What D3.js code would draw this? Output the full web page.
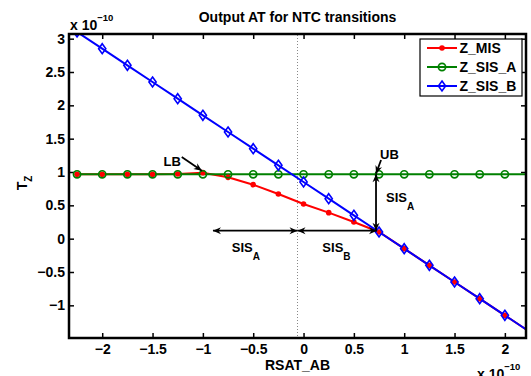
<!DOCTYPE html>
<html><head><meta charset="utf-8">
<script src="https://cdn.jsdelivr.net/npm/d3@7/dist/d3.min.js"></script>
<style>
body{margin:0;background:#fff;}
text{font-family:"Liberation Sans",Arial,Helvetica,sans-serif;font-weight:bold;fill:#000;}
</style></head>
<body>
<svg id="chart" width="531" height="376"></svg>
<script>
// ---- data ----
const xValues = [-2.25,-2,-1.75,-1.5,-1.25,-1,-0.75,-0.5,-0.25,0,0.25,0.5,0.75,1,1.25,1.5,1.75,2,2.25];
const zMIS   = [0.965,0.965,0.965,0.965,0.97,0.99,0.92,0.81,0.67,0.52,0.39,0.25,0.10,-0.15,-0.40,-0.65,-0.90,-1.15,-1.40];
const zSIS_A = [0.965,0.965,0.965,0.965,0.965,0.965,0.965,0.965,0.965,0.965,0.965,0.965,0.965,0.965,0.965,0.965,0.965,0.965,0.965];
const zSIS_B = [3.10,2.85,2.60,2.35,2.10,1.85,1.60,1.35,1.10,0.85,0.60,0.35,0.10,-0.15,-0.40,-0.65,-0.90,-1.15,-1.40];
const seriesNames = ["Z_MIS","Z_SIS_A","Z_SIS_B"];
const xTicks = [-2,-1.5,-1,-0.5,0,0.5,1,1.5,2];
const yTicks = [-1,-0.5,0,0.5,1,1.5,2,2.5,3];
const titleText = "Output AT for NTC transitions";
const xLabel = "RSAT_AB";

// ---- layout ----
const svg = d3.select("#chart");
const L = 69, R = 526, T = 34, B = 338;
const x = d3.scaleLinear().domain([-2.33, 2.21]).range([L, R]);
const y = d3.scaleLinear().domain([-1.49, 3.07]).range([B, T]);
const fmt = d => d < 0 ? "\u2212" + Math.abs(d) : String(d);

svg.append("defs").append("clipPath").attr("id","clip")
  .append("rect").attr("x",L).attr("y",T).attr("width",R-L).attr("height",B-T);

// axes
const gx = svg.append("g").attr("transform",`translate(0,${B})`)
  .call(d3.axisBottom(x).tickValues(xTicks).tickFormat(fmt).tickSizeInner(-5).tickSizeOuter(0).tickPadding(6));
const gy = svg.append("g").attr("transform",`translate(${L},0)`)
  .call(d3.axisLeft(y).tickValues(yTicks).tickFormat(fmt).tickSizeInner(-5).tickSizeOuter(0).tickPadding(4));
const gt = svg.append("g").attr("transform",`translate(0,${T})`)
  .call(d3.axisTop(x).tickValues(xTicks).tickFormat("").tickSizeInner(-5).tickSizeOuter(0));
const gr = svg.append("g").attr("transform",`translate(${R},0)`)
  .call(d3.axisRight(y).tickValues(yTicks).tickFormat("").tickSizeInner(-5).tickSizeOuter(0));
[gx,gy,gt,gr].forEach(g=>{
  g.select(".domain").remove();
  g.selectAll(".tick line").attr("stroke","#000").attr("stroke-width",1.5);
  g.selectAll(".tick text").style("font-size","14px").style("font-family",null).attr("fill","#000");
});

// dotted vertical line
svg.append("line").attr("x1",x(-0.06)).attr("x2",x(-0.06)).attr("y1",T+1).attr("y2",B-2)
  .attr("stroke","#888").attr("stroke-width",1).attr("stroke-dasharray","1,2");

// series
const plot = svg.append("g").attr("clip-path","url(#clip)");
const line = d3.line().x((d,i)=>x(xValues[i])).y(d=>y(d));
const colors = ["#ff0000","#008000","#0000ff"];
const allSeries = [zMIS, zSIS_A, zSIS_B];
allSeries.forEach((s,k)=>{
  plot.append("path").datum(s).attr("d",line).attr("fill","none")
    .attr("stroke",colors[k]).attr("stroke-width",2);
});
function marker(g, k, cx, cy){
  if(k===0){
    g.append("circle").attr("cx",cx).attr("cy",cy).attr("r",2.8).attr("fill",colors[k]);
  } else if(k===1){
    g.append("circle").attr("cx",cx).attr("cy",cy).attr("r",3.6).attr("fill","none")
      .attr("stroke",colors[k]).attr("stroke-width",1.7);
  } else {
    g.append("path").attr("d",`M${cx},${cy-5}L${cx+3.6},${cy}L${cx},${cy+5}L${cx-3.6},${cy}Z`)
      .attr("fill","none").attr("stroke",colors[k]).attr("stroke-width",1.6);
  }
}
allSeries.forEach((s,k)=>{
  s.forEach((v,i)=>marker(plot,k,x(xValues[i]),y(v)));
});

// frame
svg.append("rect").attr("x",L).attr("y",T).attr("width",R-L).attr("height",B-T)
  .attr("fill","none").attr("stroke","#000").attr("stroke-width",2.5);

// arrows
function head(px,py,fromx,fromy){
  const a = Math.atan2(py-fromy, px-fromx);
  const len=8, w=3.5, notch=5.5;
  const c=Math.cos(a), s=Math.sin(a);
  const p=(dx,dy)=>[px+dx*c-dy*s, py+dx*s+dy*c];
  const pts=[p(0,0),p(-len,w),p(-notch,0),p(-len,-w)];
  svg.append("path").attr("d","M"+pts.map(q=>q.join(",")).join("L")+"Z").attr("fill","#000");
}
function arrow(x1,y1,x2,y2,both){
  const X1=x(x1),Y1=y(y1),X2=x(x2),Y2=y(y2);
  svg.append("line").attr("x1",X1).attr("y1",Y1).attr("x2",X2).attr("y2",Y2)
    .attr("stroke","#000").attr("stroke-width",1.8);
  head(X2,Y2,X1,Y1);
  if(both) head(X1,Y1,X2,Y2);
}
arrow(-0.06,0.12,-0.9,0.12,true);
arrow(-0.06,0.12,0.73,0.12,true);
arrow(0.72,0.965,0.72,0.12,true);
arrow(0.77,1.18,0.72,0.975,false);
arrow(-1.21,1.225,-1.01,1.02,false);

function label(xd,yd,main,sub,size){
  const t = svg.append("text").attr("x",x(xd)).attr("y",y(yd)).style("font-size",size+"px").text(main);
  if(sub) t.append("tspan").attr("dy",8).style("font-size","10px").text(sub);
}
label(-1.39,1.09,"LB",null,13);
label(0.76,1.195,"UB",null,13);
label(-0.713,-0.2,"SIS","A",13);
label(0.187,-0.2,"SIS","B",13);
label(0.82,0.555,"SIS","A",13);

// title & labels
svg.append("text").attr("x",(L+R)/2).attr("y",22).attr("text-anchor","middle").style("font-size","14px").text(titleText);
svg.append("text").attr("x",(L+R)/2).attr("y",370).attr("text-anchor","middle").style("font-size","14px").text(xLabel);
const yl = svg.append("text").attr("transform","translate(27,183) rotate(-90)").attr("text-anchor","middle").style("font-size","14px").text("T");
yl.append("tspan").attr("dy",5).style("font-size","10px").text("Z");

// exponent labels
const e1 = svg.append("text").attr("x",70).attr("y",29.5).style("font-size","14px").text("x 10");
e1.append("tspan").attr("dy",-9).style("font-size","9.5px").text("\u221210");
const e2 = svg.append("text").attr("x",477).attr("y",379).style("font-size","14px").text("x 10");
e2.append("tspan").attr("dy",-9).style("font-size","9.5px").text("\u221210");

// legend
const lg = svg.append("g");
lg.append("rect").attr("x",420).attr("y",39).attr("width",102).attr("height",57)
  .attr("fill","#fff").attr("stroke","#000").attr("stroke-width",1.2);
seriesNames.forEach((n,k)=>{
  const ly = 48 + k*19;
  lg.append("line").attr("x1",427).attr("x2",457).attr("y1",ly).attr("y2",ly)
    .attr("stroke",colors[k]).attr("stroke-width",2);
  marker(lg,k,442,ly);
  lg.append("text").attr("x",459.5).attr("y",ly+5).style("font-size","14px").text(n);
});
</script>
</body></html>
